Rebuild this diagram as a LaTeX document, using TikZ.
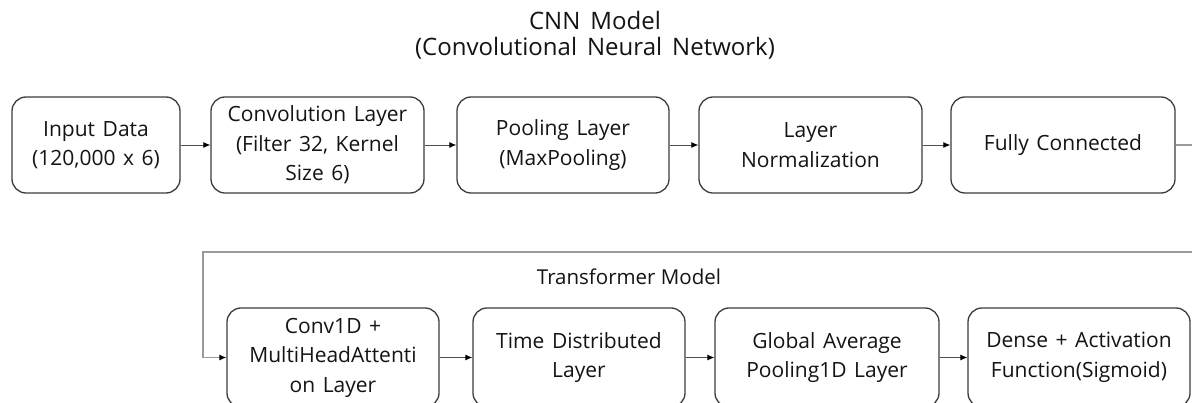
\documentclass[tikz,border=0pt]{standalone}
\usepackage{fontspec}
\setmainfont{Open Sans}
\usetikzlibrary{arrows.meta}
\definecolor{boxline}{HTML}{3C3C3C}
\definecolor{txt}{HTML}{141414}
\definecolor{arrowc}{HTML}{505050}
\definecolor{loopc}{HTML}{9A9A9A}
\newcommand\mywsbox{\spaceskip=0.36em plus 0.1em\relax}
\newcommand\mywstitle{\spaceskip=0.42em plus 0.1em\relax}
\tikzset{
  blk/.style={draw=boxline, line width=1.3pt, rounded corners=14pt, fill=white,
    align=center, inner sep=0pt, text=txt,
    font=\fontsize{21}{29.5}\selectfont\mywsbox},
  conn/.style={draw=arrowc, line width=0.9pt, -{Latex[length=7pt,width=6pt,fill=black,color=black]}},
  loopconn/.style={draw=loopc, line width=1.1pt, -{Latex[length=7pt,width=6pt,fill=black,color=black]}},
  lbl/.style={align=center, inner sep=0pt, text=txt}
}
\begin{document}
\begin{tikzpicture}[x=1pt,y=-1pt]
\useasboundingbox (0,0) rectangle (1192,403);
\clip (0,0) rectangle (1192,403);
\fill[white] (0,0) rectangle (1192,403);

\node[lbl, font=\fontsize{24}{26}\selectfont\mywstitle] (title) at (595,35) {CNN Model\\(Convolutional Neural Network)};
\node[lbl, font=\fontsize{20.5}{25}\selectfont] (tlabel) at (629,277) {Transformer Model};

% top row
\node[blk, minimum width=168pt, minimum height=96pt] (b1) at (96,145) {Input Data\\(120,000 x 6)};
\node[blk, minimum width=213pt, minimum height=96pt] (b2) at (317.5,145) {Convolution Layer\\(Filter 32, Kernel\\Size 6)};
\node[blk, minimum width=212pt, minimum height=96pt] (b3) at (563,145) {Pooling Layer\\(MaxPooling)};
\node[blk, minimum width=223pt, minimum height=96pt] (b4) at (810.5,145) {Layer\\Normalization};
\node[blk, minimum width=224pt, minimum height=96pt] (b5) at (1063,145) {Fully Connected};

% bottom row
\node[blk, minimum width=212pt, minimum height=99pt] (b6) at (333,357.5) {Conv1D +\\MultiHeadAttenti\\on Layer};
\node[blk, minimum width=212pt, minimum height=99pt] (b7) at (579,357.5) {Time Distributed\\Layer};
\node[blk, minimum width=224pt, minimum height=99pt] (b8) at (827,357.5) {Global Average\\Pooling1D Layer};
\node[blk, minimum width=222pt, minimum height=99pt] (b9) at (1079,357.5) {Dense + Activation\\Function(Sigmoid)};

\draw[conn] (b1) -- (b2);
\draw[conn] (b2) -- (b3);
\draw[conn] (b3) -- (b4);
\draw[conn] (b4) -- (b5);
\draw[conn] (b6) -- (b7);
\draw[conn] (b7) -- (b8);
\draw[conn] (b8) -- (b9);

\coordinate (r1) at (1200,145);
\coordinate (r2) at (1200,252);
\coordinate (l1) at (203,252);
\draw[loopconn] (b5.east) -- (r1) -- (r2) -- (l1) |- (b6.west);
\end{tikzpicture}
\end{document}
